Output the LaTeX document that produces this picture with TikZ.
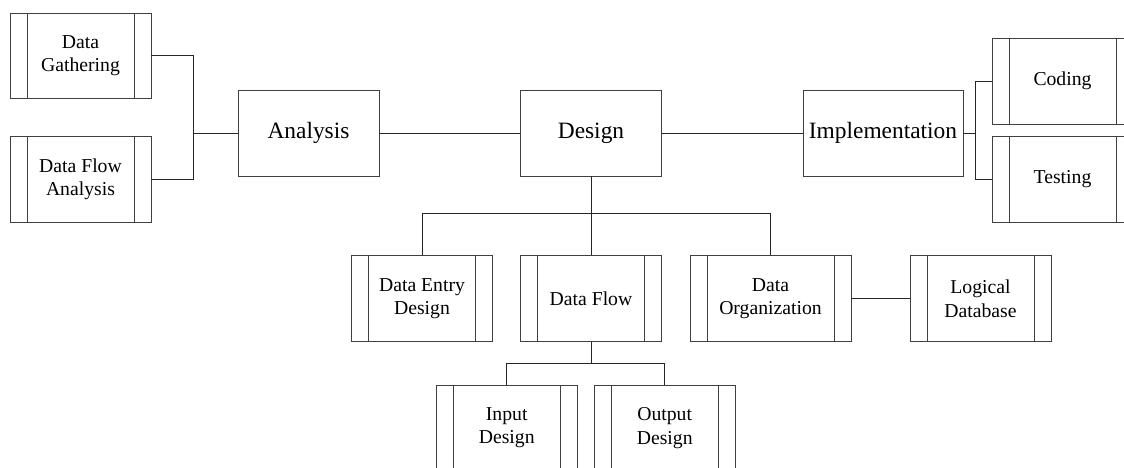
\documentclass[tikz,border=0pt]{standalone}
\usepackage{fontspec}
\setmainfont{Liberation Serif}
\begin{document}
\begin{tikzpicture}[x=1pt,y=-1pt,
  box/.style={draw=black!75, line width=0.8pt, fill=white,
    minimum width=141pt, minimum height=86pt, inner sep=0pt,
    align=center, font=\fontsize{23.4}{27}\selectfont},
  proc/.style={box, font=\fontsize{19.7}{23.3}\selectfont,
    path picture={
      \draw[black!75, line width=0.8pt]
        ([xshift=17pt]path picture bounding box.north west) --
        ([xshift=17pt]path picture bounding box.south west)
        ([xshift=-17pt]path picture bounding box.north east) --
        ([xshift=-17pt]path picture bounding box.south east);}},
  link/.style={draw=black!85, line width=1pt}]
\useasboundingbox (0,0) rectangle (1124,467);
\clip (0,0) rectangle (1124,467);

% main phases
\node[box] (an) at (308.5,133) {Analysis};
\node[box] (de) at (591,133) {Design};
\node[box, minimum width=160pt] (im) at (883,133) {Implementation};

% analysis sub-processes
\node[proc, minimum height=85pt] (dg) at (80.5,55.5) {Data\\Gathering};
\node[proc] (dfa) at (80.5,179) {Data Flow\\Analysis};

% implementation sub-processes
\node[proc] (cod) at (1062.5,81) {Coding};
\node[proc] (tst) at (1062.5,179) {Testing};

% design sub-processes
\node[proc] (ded) at (422,298.7) {Data Entry\\Design};
\node[proc] (df) at (591,298.7) {Data Flow};
\node[proc, minimum width=161pt] (dor) at (770.5,298.7) {Data\\Organization};
\node[proc] (ld) at (980.5,298.7) {Logical\\Database};

% data flow sub-processes
\node[proc] (ind) at (506.7,428) {Input\\Design};
\node[proc] (outd) at (664.7,428) {Output\\Design};

% junction points
\coordinate (j1) at (193,133);
\coordinate (j2) at (975,133);
\coordinate (j3) at (591,213.3);
\coordinate (j4) at (591,363);

% connectors
\draw[link] (dg.east) -| (j1);
\draw[link] (dfa.east) -| (j1);
\draw[link] (j1) -- (an.west);
\draw[link] (an.east) -- (de.west);
\draw[link] (de.east) -- (im.west);
\draw[link] (im.east) -- (j2);
\draw[link] (cod.west) -| (j2);
\draw[link] (tst.west) -| (j2);
\draw[link] (de.south) -- (df.north);
\draw[link] (j3) -| (ded.north);
\draw[link] (j3) -| (dor.north);
\draw[link] (dor.east) -- (ld.west);
\draw[link] (df.south) -- (j4);
\draw[link] (j4) -| (ind.north);
\draw[link] (j4) -| (outd.north);
\end{tikzpicture}
\end{document}
